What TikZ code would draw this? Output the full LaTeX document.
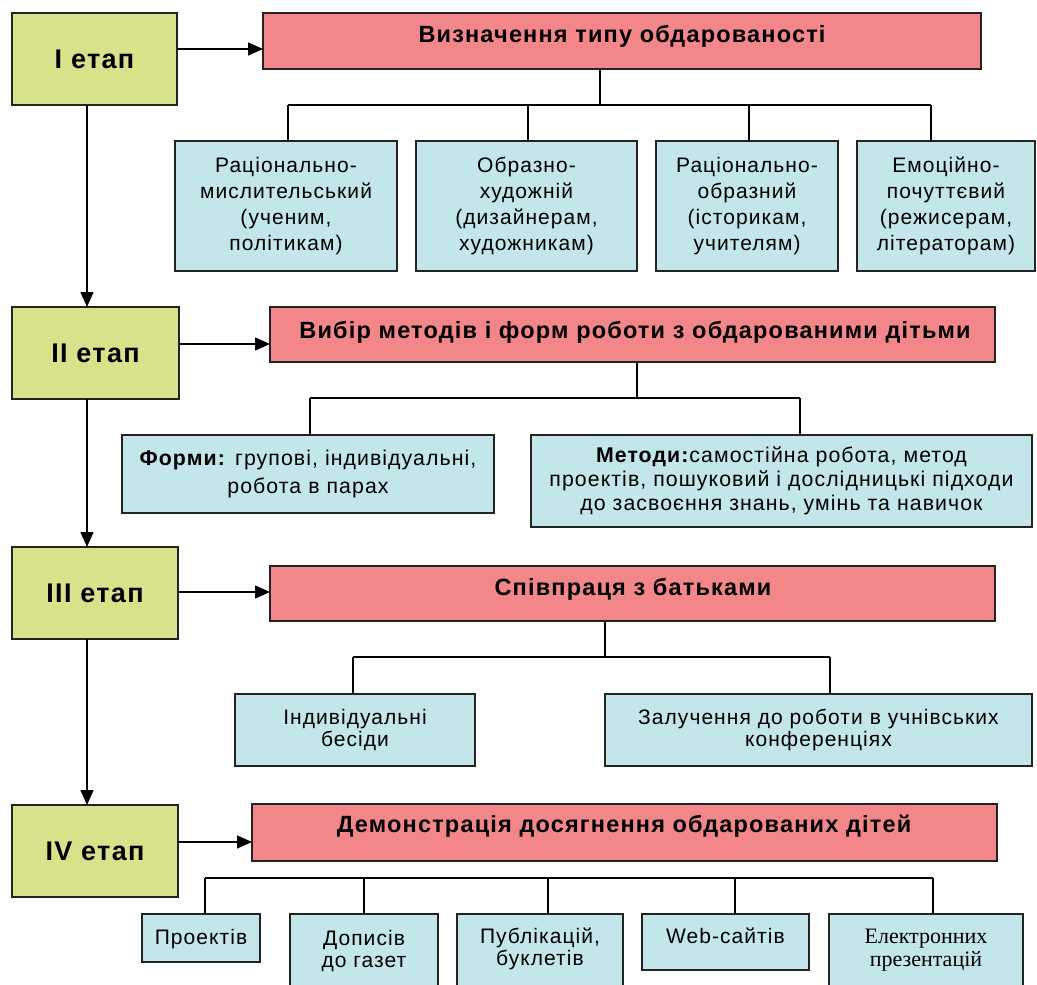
\documentclass[tikz,border=0pt]{standalone}
\usepackage{fontspec}
\setmainfont{Liberation Sans}[LetterSpace=5]
\newfontfamily\serifx{Liberation Serif}
\usetikzlibrary{arrows.meta}
\definecolor{stgc}{RGB}{216,226,138}
\definecolor{hdrc}{RGB}{242,134,136}
\definecolor{itmc}{RGB}{194,230,234}
\definecolor{edgec}{RGB}{35,35,35}
\begin{document}
\begin{tikzpicture}[x=1pt,y=-1pt,
  basebox/.style={draw=edgec, line width=1.4pt, inner sep=0pt, outer sep=0pt, rectangle},
  stagebox/.style={basebox, fill=stgc, font=\fontsize{27}{30}\selectfont\bfseries},
  hdrbox/.style={basebox, fill=hdrc},
  itembox/.style={basebox, fill=itmc},
  hdrtxt/.style={anchor=base, inner sep=0pt, font=\fontsize{23.5}{26}\selectfont\bfseries},
  itemtxt/.style={align=center, inner sep=0pt, font=\fontsize{21}{26}\selectfont},
  ln/.style={line width=1.4pt, draw=black},
  arr/.style={ln, -{Triangle[length=15pt,width=13pt]}}]
\useasboundingbox (0,0) rectangle (1037,985);
\clip (0,0) rectangle (1037,985);

% stages
\node[stagebox, minimum width=165pt, minimum height=92pt] (s1) at (94.5,59) {I етап};
\node[stagebox, minimum width=167pt, minimum height=92pt] (s2) at (95.5,353) {II етап};
\node[stagebox, minimum width=166pt, minimum height=92pt] (s3) at (95,593) {III етап};
\node[stagebox, minimum width=166pt, minimum height=92pt] (s4) at (95,851) {IV етап};

% headers
\node[hdrbox, minimum width=718pt, minimum height=56pt] (r1) at (622,41) {};
\node[hdrbox, minimum width=725pt, minimum height=55pt] (r2) at (632.5,334.5) {};
\node[hdrbox, minimum width=725pt, minimum height=55pt] (r3) at (632.5,593.5) {};
\node[hdrbox, minimum width=745pt, minimum height=57pt] (r4) at (624.5,832.5) {};
\node[hdrtxt] (t1) at (622,42) {Визначення типу обдарованості};
\node[hdrtxt] (t2) at (635,338) {Вибір методів і форм роботи з обдарованими дітьми};
\node[hdrtxt] (t3) at (633,595) {Співпраця з батьками};
\node[hdrtxt] (t4) at (624,832) {Демонстрація досягнення обдарованих дітей};

% stage 1 items
\node[itembox, itemtxt, minimum width=222pt, minimum height=130pt] (c11) at (286,206) {Раціонально-\\мислительський\\(ученим,\\політикам)};
\node[itembox, itemtxt, minimum width=221pt, minimum height=130pt] (c12) at (526.5,206) {Образно-\\художній\\(дизайнерам,\\художникам)};
\node[itembox, itemtxt, minimum width=182pt, minimum height=130pt] (c13) at (747,206) {Раціонально-\\образний\\(історикам,\\учителям)};
\node[itembox, itemtxt, minimum width=178pt, minimum height=130pt] (c14) at (946,206) {Емоційно-\\почуттєвий\\(режисерам,\\літераторам)};

% stage 2 items
\node[itembox, itemtxt, font=\fontsize{21.3}{28}\selectfont, minimum width=372pt, minimum height=78pt] (c21) at (308,474) {\textbf{Форми:} групові, індивідуальні,\\робота в парах};
\node[itembox, itemtxt, font=\fontsize{21.3}{24}\selectfont, minimum width=501pt, minimum height=92pt] (c22) at (781.5,481) {\textbf{Методи:}самостійна робота, метод\\проектів, пошуковий і дослідницькі підходи\\до засвоєння знань, умінь та навичок};

% stage 3 items
\node[itembox, itemtxt, font=\fontsize{21}{22}\selectfont, minimum width=240pt, minimum height=72pt] (c31) at (355,730) {Індивідуальні\\бесіди};
\node[itembox, itemtxt, font=\fontsize{21}{22}\selectfont, minimum width=427pt, minimum height=72pt] (c32) at (818.5,730) {Залучення до роботи в учнівських\\конференціях};

% stage 4 items
\node[itembox, minimum width=118pt, minimum height=48pt] (c41) at (201,938) {};
\node[itembox, minimum width=148pt, minimum height=86pt] (c42) at (364,957) {};
\node[itembox, minimum width=166pt, minimum height=86pt] (c43) at (540,957) {};
\node[itembox, minimum width=167pt, minimum height=56pt] (c44) at (725.5,942) {};
\node[itembox, minimum width=194pt, minimum height=86pt] (c45) at (926,957) {};
\node[itemtxt, anchor=north, font=\fontsize{21}{22}\selectfont] (u41) at (201,929) {Проектів};
\node[itemtxt, anchor=north, font=\fontsize{21}{22}\selectfont] (u42) at (364,930) {Дописів\\до газет};
\node[itemtxt, anchor=north, font=\fontsize{21}{22}\selectfont] (u43) at (540,928) {Публікацій,\\буклетів};
\node[itemtxt, anchor=north, font=\fontsize{21}{22}\selectfont] (u44) at (725.5,928) {Web-сайтів};
\node[itemtxt, anchor=north, font=\serifx\fontsize{22}{23}\selectfont] (u45) at (926,929) {Електронних\\презентацій};

% stage trunk
\draw[arr] (s1.south -| 87,0) -- (s2.north -| 87,0);
\draw[arr] (s2.south -| 87,0) -- (s3.north -| 87,0);
\draw[arr] (s3.south -| 87,0) -- (s4.north -| 87,0);

% stage to header
\draw[arr] (s1.east |- 0,49) -- (r1.west |- 0,49);
\draw[arr] (s2.east |- 0,344) -- (r2.west |- 0,344);
\draw[arr] (s3.east |- 0,592) -- (r3.west |- 0,592);
\draw[arr] (s4.east |- 0,842) -- (r4.west |- 0,842);

% stage 1 tree
\draw[ln] (r1.south -| 600,0) -- (600,105);
\draw[ln] (288,105) -- (931,105);
\foreach \n/\x in {c11/288,c12/528,c13/749,c14/931}
  \draw[ln] (\x,105) -- (\x,105 |- \n.north);

% stage 2 tree
\draw[ln] (r2.south -| 637,0) -- (637,398);
\draw[ln] (310,398) -- (800,398);
\foreach \n/\x in {c21/310,c22/800}
  \draw[ln] (\x,398) -- (\x,398 |- \n.north);

% stage 3 tree
\draw[ln] (r3.south -| 605,0) -- (605,657);
\draw[ln] (353,657) -- (830,657);
\foreach \n/\x in {c31/353,c32/830}
  \draw[ln] (\x,657) -- (\x,657 |- \n.north);

% stage 4 tree
\draw[ln] (205,878) -- (933,878);
\foreach \n/\x in {c41/205,c42/364,c43/548,c44/735,c45/933}
  \draw[ln] (\x,878) -- (\x,878 |- \n.north);
\end{tikzpicture}
\end{document}
